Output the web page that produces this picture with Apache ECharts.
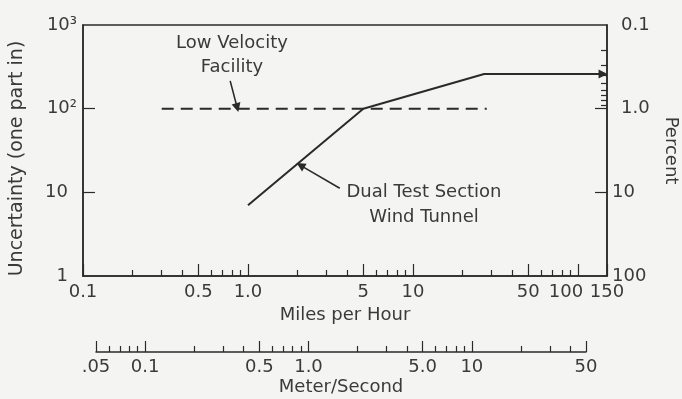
<!DOCTYPE html>
<html><head><meta charset="utf-8">
<script src="https://cdn.jsdelivr.net/npm/echarts@6/dist/echarts.min.js"></script>
<style>html,body{margin:0;padding:0;background:#f4f4f2}#c{width:682px;height:399px}</style>
</head><body><div id="c"></div><script>
// ---- data ----
const dualMph = [1.0, 5, 27, 145];
const dualUnc = [7, 100, 260, 260];
const lowMph = [0.3, 28];
const lowUnc = [100, 100];
const lowArrow = [[0.78, 215], [0.86, 103]];
const dualArrow = [[3.6, 11.2], [2.08, 21]];
const dualEndArrow = [[27, 260], [142, 260]];

const mphMajor = [0.1, 0.5, 1, 5, 10, 50, 100, 150];
const mphMajorLabels = ['0.1', '0.5', '1.0', '5', '10', '50', '{l|100}', '150'];
const mphMinor = [0.2, 0.3, 0.4, 0.6, 0.7, 0.8, 0.9, 2, 3, 4, 6, 7, 8, 9, 20, 30, 40, 60, 70, 80, 90];
const msMajor = [0.05, 0.1, 0.5, 1, 5, 10, 50];
const msMajorLabels = ['.05', '0.1', '0.5', '1.0', '5.0', '10', '50'];
const msMinor = [0.06, 0.07, 0.08, 0.09, 0.2, 0.3, 0.4, 0.6, 0.7, 0.8, 0.9, 2, 3, 4, 6, 7, 8, 9, 20, 30, 40];
const uncLabels = [1, 10, 100, 1000];
const uncLabelText = ['{p|1}', '{p|10}', '10²', '10³'];
const uncTicks = [10, 100];
const pctLabels = [0.1, 1, 10, 100];
const pctLabelText = ['{q|0.1}', '{q|1.0}', '10', '100'];
const pctTicks = [1, 10];
const pctMinor = [0.2, 0.3, 0.4, 0.5, 0.6, 0.7, 0.8, 0.9];

// ---- style ----
const FONT = 'DejaVu Sans';
const INK = '#2a2a2a';
const TXT = '#3a3a3a';
const FS = 18;

function pick(vals, texts) {
  return function (v) {
    let best = 0, d = Infinity;
    vals.forEach((x, i) => { const dd = Math.abs(Math.log(x) - Math.log(v)); if (dd < d) { d = dd; best = i; } });
    return texts[best];
  };
}
const txt = { color: TXT, fontSize: FS, fontFamily: FONT };
const rich = {
  l: { padding: [0, 24, 0, 0], color: TXT, fontSize: FS, fontFamily: FONT },
  p: { padding: [0, 9, 0, 0], color: TXT, fontSize: FS, fontFamily: FONT },
  q: { padding: [0, 0, 0, 9], color: TXT, fontSize: FS, fontFamily: FONT }
};
const line = { color: INK, width: 1.5 };

function logAxis(extra) {
  return Object.assign({
    type: 'log', logBase: 10, splitLine: { show: false }, minorTick: { show: false },
    axisLine: { onZero: false, lineStyle: line }
  }, extra);
}

const chart = echarts.init(document.getElementById('c'));
chart.setOption({
  backgroundColor: '#f4f4f2',
  animation: false,
  grid: [
    { left: 83, right: 75, top: 25, bottom: 123, show: true, borderColor: INK, borderWidth: 1.5, backgroundColor: 'transparent', outerBoundsMode: 'none', containLabel: false },
    { left: 96, width: 490, top: 340, height: 12, outerBoundsMode: 'none', containLabel: false }
  ],
  xAxis: [
    logAxis({ gridIndex: 0, min: 0.1, max: 150, position: 'bottom',
      axisTick: { inside: true, length: 12, customValues: mphMajor, lineStyle: { color: INK, width: 1.2 } },
      axisLabel: Object.assign({ customValues: mphMajor, formatter: pick(mphMajor, mphMajorLabels), margin: 7, rich: rich }, txt),
      name: 'Miles per Hour', nameLocation: 'middle', nameGap: 29, nameTextStyle: txt }),
    logAxis({ gridIndex: 0, min: 0.1, max: 150, position: 'bottom', axisLine: { show: false },
      axisTick: { inside: true, length: 6, customValues: mphMinor, lineStyle: { color: INK, width: 1.2 } },
      axisLabel: { show: false } }),
    logAxis({ gridIndex: 1, min: 0.05, max: 50, position: 'bottom',
      axisTick: { inside: true, length: 11, customValues: msMajor, lineStyle: { color: INK, width: 1.2 } },
      axisLabel: Object.assign({ customValues: msMajor, formatter: pick(msMajor, msMajorLabels), margin: 6 }, txt),
      name: 'Meter/Second', nameLocation: 'middle', nameGap: 26, nameTextStyle: txt }),
    logAxis({ gridIndex: 1, min: 0.05, max: 50, position: 'bottom', axisLine: { show: false },
      axisTick: { inside: true, length: 6, customValues: msMinor, lineStyle: { color: INK, width: 1.2 } },
      axisLabel: { show: false } })
  ],
  yAxis: [
    logAxis({ gridIndex: 0, min: 1, max: 1000, position: 'left',
      axisTick: { inside: true, length: 12, customValues: uncTicks, lineStyle: { color: INK, width: 1.2 } },
      axisLabel: Object.assign({ customValues: uncLabels, formatter: pick(uncLabels, uncLabelText), margin: 6, rich: rich }, txt),
      name: 'Uncertainty (one part in)', nameLocation: 'middle', nameGap: 56,
      nameTextStyle: { color: TXT, fontSize: 19, fontFamily: FONT, padding: [0, 16, 0, 0] } }),
    logAxis({ gridIndex: 0, min: 0.1, max: 100, inverse: true, position: 'right',
      axisTick: { inside: true, length: 12, customValues: pctTicks, lineStyle: { color: INK, width: 1.2 } },
      axisLabel: Object.assign({ customValues: pctLabels, formatter: pick(pctLabels, pctLabelText), margin: 5, rich: rich }, txt),
      name: 'Percent', nameLocation: 'middle', nameGap: 55, nameRotate: -90, nameTextStyle: txt }),
    logAxis({ gridIndex: 0, min: 0.1, max: 100, inverse: true, position: 'right', axisLine: { show: false },
      axisTick: { inside: true, length: 6, customValues: pctMinor, lineStyle: { color: INK, width: 1.2 } },
      axisLabel: { show: false } }),
    { type: 'value', gridIndex: 1, show: false, min: 0, max: 1 }
  ],
  series: [
    {
      name: 'Dual Test Section Wind Tunnel', type: 'line', xAxisIndex: 0, yAxisIndex: 0,
      data: dualMph.map((x, i) => [x, dualUnc[i]]),
      symbol: 'none', lineStyle: { color: INK, width: 2 },
      markLine: {
        silent: true, symbol: ['none', 'triangle'], symbolSize: 9,
        label: { show: false }, lineStyle: { color: INK, width: 1.6, type: 'solid' },
        data: [
          [{ coord: dualEndArrow[0] }, { coord: dualEndArrow[1], lineStyle: { width: 2 } }],
          [{ coord: dualArrow[0] }, { coord: dualArrow[1] }]
        ]
      }
    },
    {
      name: 'Low Velocity Facility', type: 'line', xAxisIndex: 0, yAxisIndex: 0,
      data: lowMph.map((x, i) => [x, lowUnc[i]]),
      symbol: 'none', lineStyle: { color: INK, width: 2, type: [12, 7] },
      markLine: {
        silent: true, symbol: ['none', 'triangle'], symbolSize: 9,
        label: { show: false }, lineStyle: { color: INK, width: 1.6, type: 'solid' },
        data: [[{ coord: lowArrow[0] }, { coord: lowArrow[1] }]]
      }
    }
  ],
  graphic: [
    { type: 'text', x: 232, y: 55, style: { text: 'Low Velocity\nFacility', textAlign: 'center', textVerticalAlign: 'middle', fill: TXT, fontSize: FS, fontFamily: FONT, lineHeight: 24 } },
    { type: 'text', x: 424, y: 205, style: { text: 'Dual Test Section\nWind Tunnel', textAlign: 'center', textVerticalAlign: 'middle', fill: TXT, fontSize: FS, fontFamily: FONT, lineHeight: 25 } }
  ]
});
</script></body></html>
